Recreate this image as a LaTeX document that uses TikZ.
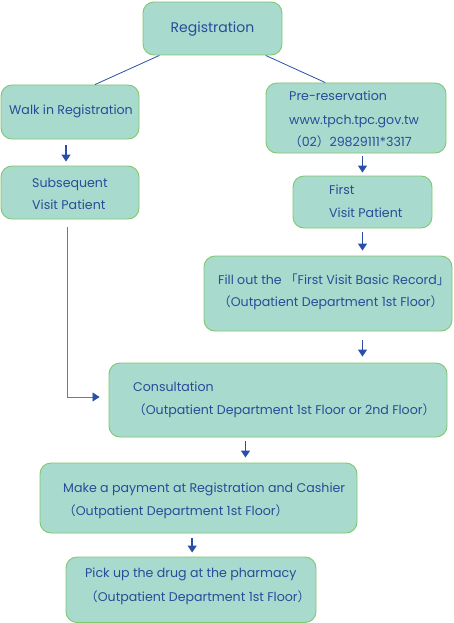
\documentclass[tikz,border=0pt]{standalone}
\usepackage{fontspec}
\setmainfont{Poppins}
\newfontfamily\cjk{Noto Sans CJK TC}
\usetikzlibrary{arrows.meta,calc}
\definecolor{boxfill}{HTML}{A8DBCE}
\definecolor{boxline}{HTML}{80C76E}
\definecolor{txtblue}{HTML}{2B4A98}
\definecolor{arrblue}{HTML}{2A50A6}
\definecolor{thinblue}{HTML}{5A7BC4}
\newcommand\lpar{{\cjk （}}
\newcommand\rpar{{\cjk ）}}
\newcommand\lbrk{{\cjk 「}}
\newcommand\rbrk{{\cjk 」}}
\tikzset{
  box/.style={draw=boxline, fill=boxfill, line width=0.9pt, rounded corners=11pt, inner sep=0pt},
  txt/.style={anchor=mid west, inner sep=0pt, text=txtblue, font=\fontsize{12.6}{14}\selectfont, yshift=-2pt},
  ttl/.style={anchor=mid, inner sep=0pt, text=txtblue, font=\fontsize{14}{16}\selectfont, yshift=-1pt},
  arr/.style={draw=arrblue, line width=1.4pt, -{Triangle[width=9pt,length=7pt]}},
  thinarr/.style={draw=thinblue, line width=0.7pt, arrows={-{Triangle[width=9pt,length=7pt,color=arrblue,fill=arrblue]}}},
  link/.style={draw=arrblue, line width=0.8pt}
}
\newcommand\boxat[5]{\node[box, minimum width=#4-#2, minimum height=#5-#3] (#1) at ({(#2+#4)/2},{(#3+#5)/2}) {};}
\begin{document}
\begin{tikzpicture}[x=1pt,y=-1pt]
\useasboundingbox (0,0) rectangle (453,623);
\boxat{reg}{143}{2}{282}{55}
\boxat{walk}{1}{85}{139}{139}
\boxat{subseq}{1}{166}{139}{219}
\boxat{pre}{266}{83}{446}{153}
\boxat{first}{293}{176}{432}{228}
\boxat{fill}{204}{256}{452}{331}
\boxat{consult}{109}{363}{447}{437}
\boxat{pay}{40}{463}{357}{533}
\boxat{pick}{66}{557}{316}{622.5}

\node[ttl] (tReg) at (reg) {Registration};
\node[txt] (tWalk) at (9,110) {Walk in Registration};
\node[txt] (tSub1) at (32,183) {Subsequent};
\node[txt] (tSub2) at (32,205) {Visit Patient};
\node[txt] (tPre1) at (289,96) {Pre-reservation};
\node[txt] (tPre2) at (289,120) {www.tpch.tpc.gov.tw};
\node[txt] (tPre3) at (289,142) {\lpar 02\rpar 29829111*3317};
\node[txt] (tFir1) at (329,190) {First};
\node[txt] (tFir2) at (329,213) {Visit Patient};
\node[txt] (tFil1) at (218,280) {Fill out the \lbrk First Visit Basic Record\rbrk};
\node[txt] (tFil2) at (218,302) {\lpar Outpatient Department 1st Floor\rpar};
\node[txt] (tCon1) at (133,387) {Consultation};
\node[txt] (tCon2) at (133,410) {\lpar Outpatient Department 1st Floor or 2nd Floor\rpar};
\node[txt] (tPay1) at (63,488) {Make a payment at Registration and Cashier};
\node[txt] (tPay2) at (63,511) {\lpar Outpatient Department 1st Floor\rpar};
\node[txt] (tPic1) at (85,573) {Pick up the drug at the pharmacy};
\node[txt] (tPic2) at (85,597) {\lpar Outpatient Department 1st Floor\rpar};

% links from Registration
\draw[link] ($(reg.south west)!0.12!(reg.south east)$) -- ($(walk.north west)!0.68!(walk.north east)$);
\draw[link] ($(reg.south west)!0.88!(reg.south east)$) -- ($(pre.north west)!0.33!(pre.north east)$);

% arrow anchor points
\coordinate (cA) at ($(walk.south)+(-4,0)$);
\coordinate (cB) at ($(consult.south west)!0.404!(consult.south east)$);
\coordinate (cC) at ($(pay.south west)!0.480!(pay.south east)$);
\coordinate (cD) at ($(subseq.south)+(-3,8)$);

% arrows
\draw[arr, shorten <=6pt, shorten >=4pt] (cA) -- (cA |- subseq.north);
\draw[arr, shorten <=3pt, shorten >=3pt] (pre.south -| first.north) -- (first.north);
\draw[arr, shorten <=4pt, shorten >=5pt] (first.south) -- (first.south |- fill.north);
\draw[arr, shorten <=9pt, shorten >=6pt] (fill.south -| first.south) -- (consult.north -| first.south);
\draw[arr, shorten <=4pt, shorten >=5pt] (cB) -- (cB |- pay.north);
\draw[arr, shorten <=5pt, shorten >=4pt] (cC) -- (cC |- pick.north);
\draw[thinarr, shorten >=9pt] (cD) |- ($(consult.west)+(0,-3)$);
\end{tikzpicture}
\end{document}
